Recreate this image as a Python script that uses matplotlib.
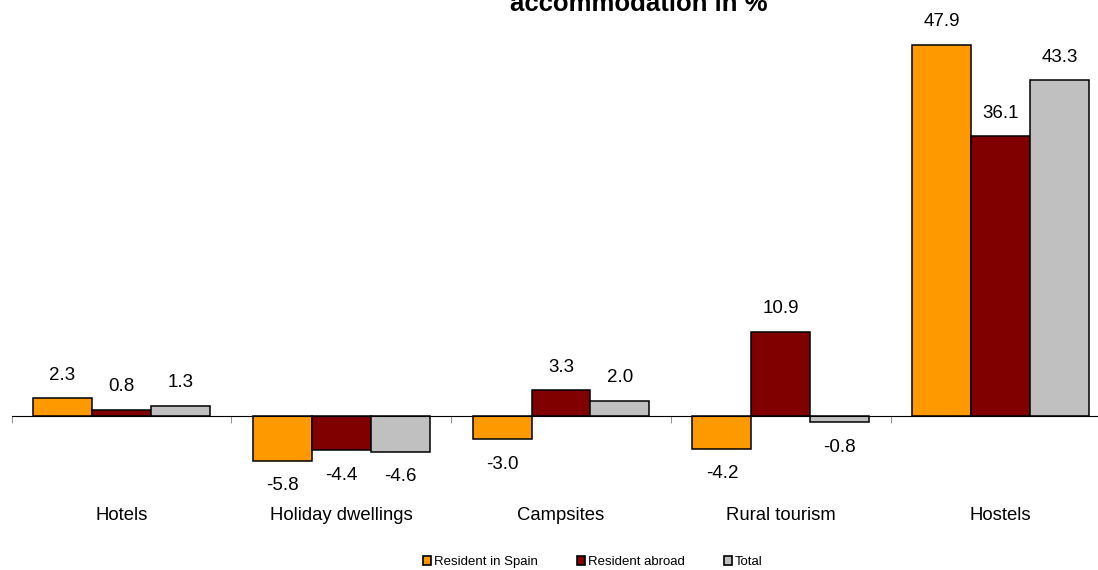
import matplotlib.pyplot as plt
import matplotlib.transforms as mtransforms
import numpy as np

plt.rcParams['font.family'] = ['Liberation Sans', 'DejaVu Sans']

categories = ["Hotels", "Holiday dwellings", "Campsites", "Rural tourism", "Hostels"]
series_names = ["Resident in Spain", "Resident abroad", "Total"]
resident_spain = [2.3, -5.8, -3.0, -4.2, 47.9]
resident_abroad = [0.8, -4.4, 3.3, 10.9, 36.1]
total = [1.3, -4.6, 2.0, -0.8, 43.3]
colors = ["#FF9900", "#800000", "#C0C0C0"]

fig = plt.figure(figsize=(10.98, 5.70), dpi=100)
ax = fig.add_axes([11.5 / 1098, 0.1614, 1099 / 1098, 0.7886])

x = np.arange(len(categories))
w = 0.268
offsets = [-w, 0, w]
per_px = 58.0 / 449.5  # data units per pixel

for vals, off, col, name in zip([resident_spain, resident_abroad, total], offsets, colors, series_names):
    ax.bar(x + off, vals, w, color=col, edgecolor="black", linewidth=1.1, label=name)
    for xi, v in zip(x + off, vals):
        dy = 23 * per_px if v >= 0 else -25 * per_px
        ax.text(xi, v + dy, f"{v:.1f}", ha="center", va="center", fontsize=13.5)

ax.set_xlim(-0.5, 4.5)
ax.set_ylim(-8, 50)
for s in ["left", "right", "top"]:
    ax.spines[s].set_visible(False)
ax.spines["bottom"].set_position(("data", 0))
ax.spines["bottom"].set_linewidth(0.8)
ax.set_yticks([])
ax.set_xticks(np.arange(-0.5, 5, 1))
ax.set_xticklabels([])
ax.tick_params(axis="x", direction="out", length=5, width=0.6, color="#808080")

trans = mtransforms.blended_transform_factory(ax.transData, fig.transFigure)
for xi, c in zip(x, categories):
    ax.text(xi, 1 - 516 / 570, c, ha="center", va="center", fontsize=13.3, transform=trans)

fig.text(639 / 1098, 1 - 11 / 570, "accommodation in %", ha="center", va="baseline",
         fontsize=18.5, fontweight="bold")

leg = fig.legend(loc="center", bbox_to_anchor=(593 / 1098, 1 - 562 / 570), ncol=3,
                 frameon=False, fontsize=9.5, handlelength=0.6, handleheight=0.6,
                 handletextpad=0.2, columnspacing=3.0)
for h in leg.legend_handles:
    h.set_linewidth(1.2)

fig.savefig("out.png", dpi=100)
